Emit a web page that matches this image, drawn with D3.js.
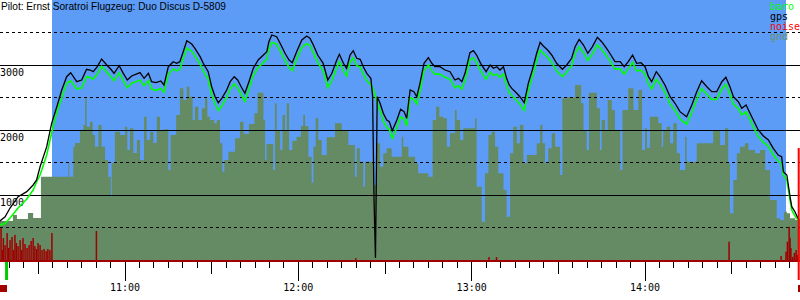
<!DOCTYPE html>
<html>
<head>
<meta charset="utf-8">
<script src="https://cdn.jsdelivr.net/npm/d3@7"></script>
<style>
body { margin:0; background:#fff; }
svg { display:block; }
</style>
</head>
<body>
<svg id="chart" width="800" height="300"></svg>
<script>
// barogram, all times are minutes after 10:00
var title = "Pilot: Ernst Soratroi Flugzeug: Duo Discus D-5809";
var legendNames = ["baro", "gps", "noise", "gnd"];
var legendColors = ["#00ff00", "#000000", "#ff0000", "#6e8e6e"];
var altSolid = [1000, 2000, 3000];
var altDashed = [500, 1500, 2500, 3500];
var hourLabels = ["11:00", "12:00", "13:00", "14:00"];

var viewRange = [16.73, 293.65];
var glideRange = [34.73, 288.81];
var takeoffMin = 19.0;
var landingMin = 293.2;

var fixTime = [
  16.7, 18.5, 20.2, 23.0, 26.0, 28.2, 29.4, 30.6, 32.9, 34.6,
  36.4, 38.1, 39.8, 41.2, 43.3, 45.0, 46.7, 47.9, 49.0, 50.4,
  51.9, 53.7, 55.1, 56.2, 58.0, 59.4, 60.8, 62.3, 64.1, 65.2,
  66.6, 68.1, 69.2, 70.7, 72.4, 73.5, 75.0, 76.7, 77.9, 79.0,
  81.4, 83.1, 84.2, 86.0, 87.1, 88.8, 90.0, 91.2, 92.3, 93.5,
  95.2, 96.4, 97.8, 99.0, 100.2, 101.5, 102.9, 104.4, 106.1, 107.9,
  109.1, 109.8, 110.8, 112.5, 114.0, 115.4, 116.8, 117.9, 119.4, 121.2,
  122.9, 124.0, 125.2, 126.7, 128.6, 130.2, 131.6, 133.3, 134.2, 135.6,
  136.7, 137.9, 139.0, 140.2, 141.4, 142.5, 143.7, 145.1, 145.7, 146.2,
  146.7, 147.3, 148.3, 149.4, 150.6, 151.5, 152.5, 154.1, 155.4, 156.6,
  157.5, 158.7, 160.0, 161.0, 162.1, 163.5, 165.0, 166.2, 167.3, 169.0,
  170.8, 172.5, 174.2, 175.4, 176.6, 177.7, 179.4, 180.6, 181.7, 183.1,
  185.0, 186.4, 187.5, 188.7, 189.8, 191.0, 192.1, 193.0, 193.9, 195.6,
  196.7, 198.2, 199.6, 201.0, 202.5, 203.7, 204.8, 206.3, 207.7, 209.4,
  211.4, 212.9, 214.6, 215.8, 217.2, 218.7, 220.2, 221.8, 223.5, 225.0,
  226.7, 228.2, 229.6, 231.4, 232.8, 234.2, 235.7, 237.1, 238.6, 240.0,
  241.2, 242.3, 243.9, 245.2, 246.9, 248.7, 250.4, 252.1, 254.4, 256.2,
  257.9, 259.6, 261.4, 263.1, 264.8, 266.6, 268.0, 269.4, 270.6, 272.3,
  273.5, 275.0, 276.1, 277.5, 279.2, 281.0, 282.7, 284.4, 286.1, 287.3,
  287.9, 289.1, 290.2, 290.8, 291.9, 292.7, 293.4
];
var gpsAlt = [
  600, 666, 800, 974, 1051, 1154, 1231, 1435, 1743, 2103,
  2358, 2615, 2820, 2882, 2743, 2769, 2934, 2923, 2897, 2974,
  3092, 3000, 2934, 2872, 2989, 2872, 2769, 2831, 2862, 2882,
  2795, 2872, 2743, 2728, 2754, 2692, 2974, 3051, 3026, 3051,
  3374, 3323, 3257, 3128, 3026, 2897, 2666, 2512, 2420, 2488,
  2615, 2743, 2820, 2769, 2666, 2565, 2743, 2949, 3077, 3154,
  3205, 3358, 3462, 3435, 3308, 3180, 3077, 3035, 3205, 3385,
  3446, 3411, 3308, 3154, 3026, 2769, 2872, 3077, 3165, 3026,
  2949, 3154, 3220, 3103, 3088, 2974, 2872, 2795, 2523, 923,
  31, 2512, 2411, 2257, 2154, 2128, 1989, 2154, 2318, 2282,
  2180, 2615, 2589, 2512, 2718, 3026, 3112, 3026, 2974, 2974,
  2923, 2897, 2769, 2795, 2743, 2872, 3189, 3220, 3154, 3026,
  2897, 3000, 2949, 2974, 2923, 2974, 2795, 2692, 2641, 2565,
  2512, 2420, 2718, 2923, 3180, 3349, 3292, 3231, 3154, 3026,
  2934, 3000, 3103, 3282, 3395, 3308, 3180, 3282, 3426, 3358,
  3257, 3154, 3051, 3051, 2974, 3051, 3154, 3026, 3035, 2974,
  2820, 2743, 2897, 2820, 2692, 2512, 2411, 2282, 2205, 2385,
  2589, 2758, 2666, 2589, 2589, 2743, 2811, 2666, 2512, 2435,
  2334, 2385, 2282, 2154, 2000, 1908, 1846, 1718, 1615, 1589,
  1358, 1308, 974, 820, 743, 666, 615
];
var baroAlt = [
  540, 560, 646, 800, 938, 1077, 1200, 1308, 1615, 1954,
  2277, 2492, 2718, 2758, 2630, 2650, 2820, 2810, 2780, 2860,
  2980, 2890, 2820, 2760, 2880, 2760, 2650, 2720, 2750, 2770,
  2680, 2760, 2630, 2610, 2640, 2580, 2860, 2940, 2910, 2940,
  3260, 3210, 3140, 3010, 2910, 2780, 2550, 2400, 2300, 2370,
  2500, 2630, 2710, 2650, 2550, 2440, 2630, 2840, 2960, 3040,
  3090, 3240, 3350, 3320, 3190, 3070, 2960, 2910, 3090, 3270,
  3330, 3300, 3190, 3040, 2910, 2650, 2760, 2960, 3050, 2910,
  2830, 3040, 3110, 2990, 2970, 2860, 2760, 2690, 2650, 2600,
  2520, 2420, 2300, 2140, 2040, 2010, 1870, 2040, 2200, 2170,
  2060, 2500, 2470, 2400, 2600, 2910, 3000, 2910, 2860, 2860,
  2810, 2780, 2650, 2680, 2630, 2760, 3080, 3110, 3040, 2910,
  2780, 2890, 2840, 2860, 2810, 2860, 2680, 2580, 2530, 2450,
  2400, 2300, 2600, 2810, 3070, 3230, 3180, 3120, 3040, 2910,
  2820, 2890, 2990, 3170, 3280, 3190, 3070, 3170, 3310, 3240,
  3140, 3040, 2940, 2940, 2860, 2940, 3040, 2910, 2920, 2860,
  2710, 2630, 2780, 2710, 2580, 2400, 2300, 2170, 2090, 2270,
  2470, 2640, 2550, 2470, 2470, 2630, 2700, 2550, 2400, 2330,
  2230, 2280, 2180, 2050, 1900, 1810, 1750, 1620, 1520, 1490,
  1310, 1230, 923, 769, 677, 630, 600
];

// terrain under the track, step profile
var gndTime = [
  16.7, 21.2, 22.6, 26.4, 28.2, 30.9, 40.4, 40.7, 42.1, 42.7,
  44.4, 45.6, 46.2, 46.7, 47.9, 48.8, 49.6, 50.8, 51.9, 53.1,
  54.2, 55.1, 55.4, 56.5, 58.3, 60.0, 60.8, 61.7, 62.9, 64.1,
  65.2, 66.6, 67.5, 68.7, 69.8, 71.0, 72.1, 73.3, 75.0, 75.8,
  77.7, 79.0, 80.2, 81.4, 82.3, 83.4, 84.2, 85.4, 86.6, 87.7,
  88.5, 89.4, 90.9, 91.8, 92.9, 93.7, 94.4, 95.8, 98.1, 99.8,
  101.0, 101.6, 102.9, 104.8, 105.9, 107.9, 108.5, 109.0, 111.3, 111.9,
  112.5, 113.7, 114.5, 115.4, 116.0, 116.8, 117.9, 119.4, 120.9, 121.7,
  122.3, 123.5, 124.6, 125.2, 126.0, 126.9, 128.1, 129.8, 132.7, 135.0,
  137.3, 139.6, 140.2, 141.3, 142.5, 143.1, 145.8, 146.2, 147.1, 148.3,
  149.4, 150.6, 152.3, 155.8, 156.3, 158.1, 160.4, 161.5, 165.0, 166.5,
  167.7, 168.8, 170.2, 171.4, 172.5, 174.2, 174.8, 176.0, 177.1, 181.2,
  181.7, 183.5, 184.6, 185.8, 186.9, 188.1, 189.2, 191.0, 192.1, 193.3,
  194.4, 195.6, 196.7, 197.9, 199.1, 202.5, 203.7, 204.5, 205.4, 206.5,
  207.7, 208.9, 210.6, 211.4, 212.9, 215.8, 217.9, 218.7, 219.8, 220.6,
  223.3, 224.4, 225.0, 226.2, 227.1, 228.5, 229.6, 231.4, 232.2, 234.2,
  236.0, 237.7, 239.0, 240.0, 240.7, 241.7, 244.6, 245.8, 246.3, 247.5,
  248.7, 249.8, 251.0, 252.1, 253.9, 254.4, 257.9, 263.6, 266.0, 267.7,
  268.8, 269.4, 270.6, 271.8, 272.9, 274.6, 275.8, 278.1, 279.8, 281.6,
  283.3, 285.6, 286.7, 288.1, 289.1, 290.2, 292.0, 293.7
];
var gndAlt = [
  600, 692, 631, 723, 646, 1282, 1492, 1282, 1743, 1800,
  2000, 2077, 2503, 2051, 2128, 1923, 1743, 2077, 1743, 1538,
  1282, 974, 1492, 1974, 1923, 2051, 1692, 2026, 1646, 1846,
  1538, 2205, 1846, 1974, 1800, 2205, 2000, 2011, 1385, 1923,
  2231, 2641, 2462, 2666, 2512, 2154, 2358, 2154, 2334, 2488,
  2205, 2154, 2103, 2154, 1795, 1358, 1538, 1666, 1872, 2128,
  1949, 1938, 2092, 2257, 2574, 2154, 1538, 1785, 1385, 2411,
  2000, 1692, 2231, 2000, 2411, 1692, 1835, 1897, 2062, 2231,
  2062, 1589, 1189, 1743, 2180, 1846, 1615, 1888, 2103, 2000,
  1769, 1282, 1718, 1512, 1128, 1512, 1641, 1154, 1795, 1435,
  1641, 1718, 1589, 1897, 1743, 1589, 1487, 1334, 1282, 2154,
  2358, 2205, 2180, 1743, 1949, 2308, 2154, 1846, 2026, 2180,
  1128, 589, 1334, 1923, 1974, 1743, 1334, 1077, 666, 1641,
  2051, 1795, 2077, 1487, 1615, 1795, 2077, 1795, 1487, 1718,
  1949, 1743, 1308, 2488, 2503, 2692, 2411, 2000, 1692, 2574,
  2334, 1692, 2154, 2000, 2462, 2308, 2000, 1385, 2308, 2641,
  2308, 2615, 1692, 2026, 1723, 2205, 2103, 1743, 2000, 2051,
  1795, 2103, 1641, 1385, 1897, 1512, 1795, 2000, 1769, 2026,
  1487, 718, 1231, 1641, 1743, 1795, 1692, 1641, 1692, 1385,
  923, 641, 615, 743, 718, 641, 615, 615
];

// engine noise level (0..1000)
var noiseTime = [
  17.1, 17.6, 17.9, 18.5, 19.2, 19.7, 20.2, 20.9, 21.4, 21.9,
  22.4, 23.0, 23.7, 24.2, 24.7, 25.4, 26.1, 26.8, 27.5, 28.2,
  28.8, 29.4, 29.9, 30.6, 31.3, 32.0, 32.7, 33.3, 34.0, 34.7,
  50.1, 139.9, 186.0, 188.6, 269.1, 287.1, 288.8, 289.3, 289.9, 290.2,
  290.5, 291.1, 291.7, 292.3, 292.7
];
var noiseLevel = [
  126, 42, 88, 61, 107, 50, 80, 92, 42, 100,
  69, 57, 80, 42, 88, 65, 50, 61, 77, 88,
  57, 46, 69, 61, 42, 46, 38, 46, 42, 107,
  115, 11, 15, 15, 74, 19, 36, 74, 131, 88,
  50, 16, 31, 42, 23
];

var W = 800, H = 300;
var svg = d3.select("#chart");
var x = d3.scaleLinear().domain(viewRange).range([0, W]);
var y = d3.scaleLinear().domain([0, 4000]).range([260, 0]);
var yNoise = d3.scaleLinear().domain([0, 1000]).range([261, 0]);

function px(v) { return Math.floor(v) + 0.5; }
function hm(s) { var p = s.split(":"); return (+p[0] - 10) * 60 + (+p[1]); }

// soaring period background
svg.append("rect")
   .attr("x", x(glideRange[0])).attr("y", 0)
   .attr("width", x(glideRange[1]) - x(glideRange[0]))
   .attr("height", 261)
   .attr("fill", "#5c9cf6");

// ground
var gndData = gndTime.map(function(t, i) { return {t:t, a:gndAlt[i]}; });
var gndArea = d3.area()
   .x(function(d) { return x(d.t); })
   .y0(261)
   .y1(function(d) { return y(d.a); })
   .curve(d3.curveStepAfter);
svg.append("path").attr("d", gndArea(gndData)).attr("fill", "#648b64");

// grid
svg.selectAll(".gsolid").data(altSolid).enter().append("line")
   .attr("x1", 0).attr("x2", W)
   .attr("y1", function(d) { return px(y(d)); })
   .attr("y2", function(d) { return px(y(d)); })
   .attr("stroke", "#000").attr("stroke-width", 1);
svg.selectAll(".gdash").data(altDashed).enter().append("line")
   .attr("x1", 0).attr("x2", W)
   .attr("y1", function(d) { return px(y(d)); })
   .attr("y2", function(d) { return px(y(d)); })
   .attr("stroke", "#000").attr("stroke-width", 1)
   .attr("stroke-dasharray", "3,3");

svg.selectAll(".ylab").data(altSolid).enter().append("text")
   .attr("x", 0).attr("y", function(d) { return y(d) + 11; })
   .attr("font-family", "DejaVu Sans Mono").attr("font-size", 10)
   .attr("fill", "#000")
   .text(function(d) { return d; });

// noise
svg.selectAll(".noise").data(noiseTime).enter().append("rect")
   .attr("x", function(d) { return x(d) - 0.75; })
   .attr("width", 1.5)
   .attr("y", function(d, i) { return yNoise(noiseLevel[i]); })
   .attr("height", function(d, i) { return 261 - yNoise(noiseLevel[i]); })
   .attr("fill", "#9e0000");

svg.append("rect").attr("x", 0).attr("y", 260).attr("width", W).attr("height", 2)
   .attr("fill", "#a00000");

// altitude lines
var baroLine = d3.line()
   .x(function(d, i) { return x(fixTime[i]); })
   .y(function(d) { return y(d); });
svg.append("path").attr("d", baroLine(baroAlt))
   .attr("fill", "none").attr("stroke", "#00ff00").attr("stroke-width", 1.6);
svg.append("path").attr("d", baroLine(gpsAlt))
   .attr("fill", "none").attr("stroke", "#000").attr("stroke-width", 1.3);

// time axis
var ticks = d3.range(20, viewRange[1], 5);
svg.selectAll(".tick").data(ticks).enter().append("line")
   .attr("x1", function(d) { return px(x(d)); })
   .attr("x2", function(d) { return px(x(d)); })
   .attr("y1", 262)
   .attr("y2", function(d) { return d % 60 == 0 ? 281 : (d % 30 == 0 ? 274 : 268); })
   .attr("stroke", "#000");
svg.selectAll(".xlab").data(hourLabels).enter().append("text")
   .attr("x", function(d) { return x(hm(d)); })
   .attr("y", 291)
   .attr("text-anchor", "middle")
   .attr("font-family", "DejaVu Sans Mono").attr("font-size", 10)
   .text(function(d) { return d; });

// takeoff / landing markers
svg.append("rect").attr("x", x(takeoffMin) - 1.5).attr("y", 262)
   .attr("width", 3).attr("height", 18).attr("fill", "#00cc00");
svg.append("rect").attr("x", x(landingMin) - 1).attr("y", 148)
   .attr("width", 2).attr("height", 132).attr("fill", "#ff0000");
svg.append("rect").attr("x", 0).attr("y", 285).attr("width", 7).attr("height", 7)
   .attr("fill", "#a00000");
svg.append("rect").attr("x", 798).attr("y", 285).attr("width", 7).attr("height", 7)
   .attr("fill", "#a00000");

// title and legend
svg.append("text").attr("x", 1).attr("y", 10)
   .attr("font-family", "Liberation Sans, Arial").attr("font-size", 11)
   .attr("textLength", 225).attr("lengthAdjust", "spacingAndGlyphs")
   .text(title);
svg.selectAll(".leg").data(legendNames).enter().append("text")
   .attr("x", 770).attr("y", function(d, i) { return 10 + i * 10; })
   .attr("font-family", "DejaVu Sans Mono").attr("font-size", 10)
   .attr("fill", function(d, i) { return legendColors[i]; })
   .text(function(d) { return d; });
</script>
</body>
</html>
